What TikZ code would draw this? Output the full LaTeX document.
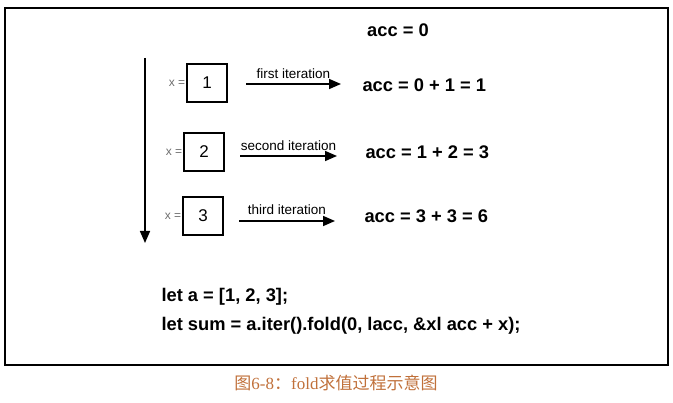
\documentclass[tikz,border=0pt]{standalone}
\usepackage{fontspec}
\setmainfont{Liberation Sans}
\newfontfamily\cjk{Noto Sans CJK SC}
\newfontfamily\capserif{Liberation Serif}
\definecolor{capcol}{RGB}{192,112,58}
\definecolor{xgray}{RGB}{110,110,110}
\usetikzlibrary{arrows.meta}

\begin{document}
\begin{tikzpicture}[
    x=1pt, y=-1pt,
    numbox/.style={draw, line width=1.2pt, minimum width=40pt, minimum height=38pt, font=\fontsize{17}{19}\selectfont},
    xlab/.style={font=\fontsize{12}{14}\selectfont, text=xgray, anchor=east, inner sep=1pt},
    res/.style={font=\bfseries\fontsize{18.3}{21}\selectfont, anchor=west},
    itlab/.style={font=\fontsize{13.5}{15}\selectfont, above},
    code/.style={font=\bfseries\fontsize{18.3}{21}\selectfont, anchor=west},
    arr/.style={-{Triangle[length=12pt,width=10pt]}, line width=1.6pt}
]
\useasboundingbox (0,0) rectangle (673,403);
% Frame
\draw[line width=1.8pt] (5,8) rectangle (668,365);
% Start value
\node[font=\bfseries\fontsize{18.3}{21}\selectfont] (acc0) at (398,30) {acc = 0};
% Time axis
\coordinate (top) at (145,58);
\coordinate (bot) at (145,243);
\draw[arr] (top) -- (bot);
% Boxes
\node[numbox] (box1) at (207,83) {1};
\node[numbox] (box2) at (204,152) {2};
\node[numbox] (box3) at (203,216) {3};
\node[xlab] (x1) at (box1.west) {x =};
\node[xlab] (x2) at (box2.west) {x =};
\node[xlab] (x3) at (box3.west) {x =};
% Results
\node[res] (res1) at (359,85) {acc = 0 + 1 = 1};
\node[res] (res2) at (362,152) {acc = 1 + 2 = 3};
\node[res] (res3) at (361,216) {acc = 3 + 3 = 6};
% Iterations
\coordinate (s1) at (246,84);
\coordinate (e1) at (341,84);
\coordinate (s2) at (240,156);
\coordinate (e2) at (337,156);
\coordinate (s3) at (239,221);
\coordinate (e3) at (335,221);
\draw[arr] (s1) -- (e1) node[midway, itlab, yshift=1pt] {first iteration};
\draw[arr] (s2) -- (e2) node[midway, itlab, yshift=1pt] {second iteration};
\draw[arr] (s3) -- (e3) node[midway, itlab, yshift=2pt] {third iteration};
% Code
\node[code] (line1) at (158,297) {let a = [1, 2, 3];};
\node[code] (line2) at (158,326) {let sum = a.iter().fold(0, lacc, \&xl acc + x);};
% Caption
\node[text=capcol, font=\fontsize{17}{20}\selectfont] (cap) at (336,383) {\cjk 图\capserif 6-8\cjk ：\capserif fold\cjk 求值过程示意图};
\end{tikzpicture}
\end{document}
